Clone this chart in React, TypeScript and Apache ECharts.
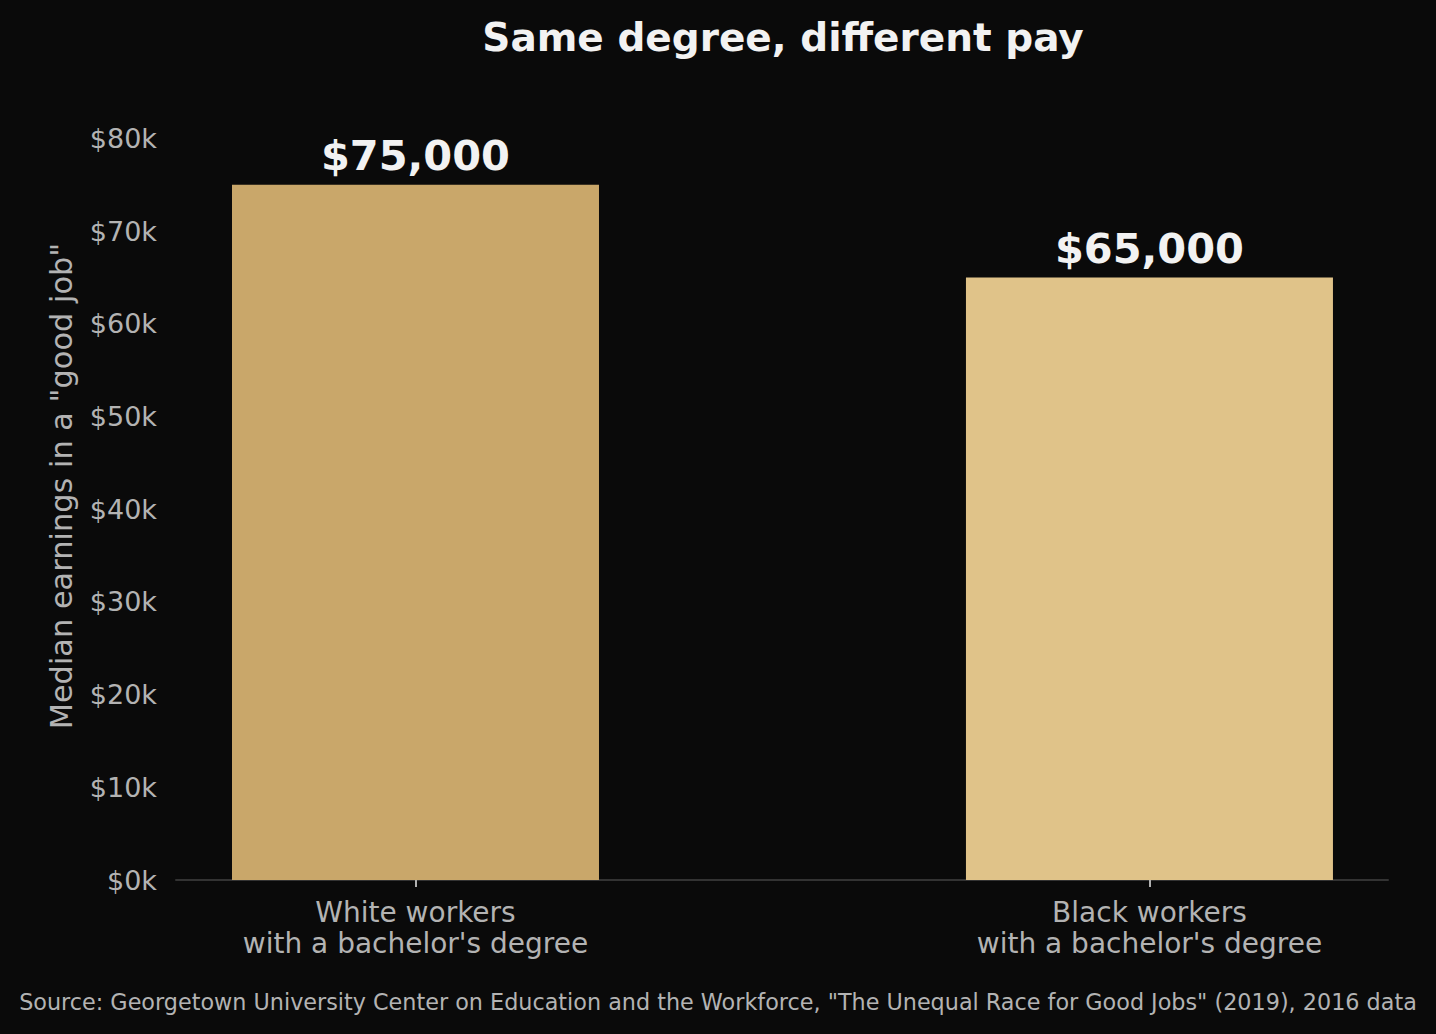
import React, { useEffect, useRef } from "react";
import * as echarts from "echarts";

const categories = ["White workers\nwith a bachelor's degree", "Black workers\nwith a bachelor's degree"];
const earnings = [75000, 65000];
const barColors = ["#c9a76a", "#e0c389"];
const yTicks = [0, 10000, 20000, 30000, 40000, 50000, 60000, 70000, 80000];

const FONT = "DejaVu Sans";

export default function App() {
  const ref = useRef<HTMLDivElement>(null);
  useEffect(() => {
    document.body.style.margin = "0";
    document.body.style.background = "#0a0a0a";
    document.documentElement.style.background = "#0a0a0a";
    if (!ref.current) return;
    const chart = echarts.init(ref.current, null, { renderer: "svg" });
    chart.setOption({
      animation: false,
      backgroundColor: "#0a0a0a",
      textStyle: { fontFamily: FONT },
      title: {
        text: "Same degree, different pay",
        left: 778,
        textAlign: "center",
        top: 13,
        textStyle: { color: "#f2f2f2", fontSize: 39, fontWeight: "bold", fontFamily: FONT },
      },
      grid: { left: 176, right: 48, top: 92, bottom: 154, containLabel: false },
      xAxis: {
        type: "value",
        min: -0.3263,
        max: 1.325,
        splitLine: { show: false },
        axisLine: { show: true, lineStyle: { color: "#333333", width: 2 } },
        axisTick: { show: true, customValues: [0, 1], length: 7, lineStyle: { color: "#b0b0b0", width: 2 } },
        axisLabel: {
          customValues: [0, 1],
          color: "#b3b3b3",
          fontSize: 28,
          lineHeight: 31,
          margin: 17,
          fontFamily: FONT,
          formatter: (v: number) => categories[Math.round(v)] ?? "",
        },
      },
      yAxis: {
        type: "value",
        min: 0,
        max: 85000,
        interval: 10000,
        name: 'Median earnings in a "good job"',
        nameLocation: "middle",
        nameGap: 100,
        nameTextStyle: { color: "#b3b3b3", fontSize: 30.4, fontFamily: FONT },
        splitLine: { show: false },
        axisLine: { show: false },
        axisTick: { show: false },
        axisLabel: {
          color: "#b3b3b3",
          fontSize: 27,
          margin: 19,
          fontFamily: FONT,
          formatter: (v: number) => (yTicks.includes(v) ? "$" + v / 1000 + "k" : ""),
        },
      },
      series: [
        {
          type: "bar",
          barWidth: 367,
          data: earnings.map((v, i) => ({ value: [i, v], itemStyle: { color: barColors[i] } })),
          label: {
            show: true,
            position: "top",
            distance: 8,
            color: "#f2f2f2",
            fontSize: 41.5,
            fontWeight: "bold",
            fontFamily: FONT,
            formatter: (p: any) => "$" + p.value[1].toLocaleString("en-US"),
          },
        },
      ],
      graphic: [
        {
          type: "text",
          left: "center",
          top: 991,
          style: {
            text: 'Source: Georgetown University Center on Education and the Workforce, "The Unequal Race for Good Jobs" (2019), 2016 data',
            fill: "#b3b3b3",
            fontSize: 22.3,
            fontFamily: FONT,
          },
        },
      ],
    });
    return () => chart.dispose();
  }, []);
  return <div ref={ref} style={{ width: 1436, height: 1034 }} />;
}
